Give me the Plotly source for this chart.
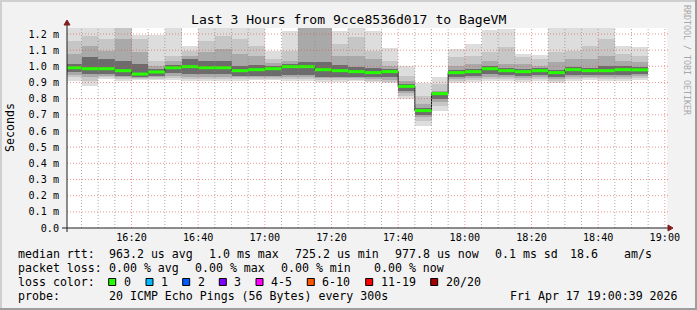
import plotly.graph_objects as go
from datetime import datetime, timedelta

# ---------------- data ----------------
DAY = "2026-04-17"
bin_end = ["16:05", "16:10", "16:15", "16:20", "16:25", "16:30", "16:35", "16:40",
           "16:45", "16:50", "16:55", "17:00", "17:05", "17:10", "17:15", "17:20",
           "17:25", "17:30", "17:35", "17:40", "17:45", "17:50", "17:55", "18:00",
           "18:05", "18:10", "18:15", "18:20", "18:25", "18:30", "18:35", "18:40",
           "18:45", "18:50", "18:55"]

# median rtt in ms
median_ms = [0.991, 0.985, 0.985, 0.973, 0.952, 0.965, 0.991, 0.998,
             0.991, 0.991, 0.973, 0.979, 0.985, 0.998, 0.998, 0.979,
             0.973, 0.967, 0.961, 0.967, 0.876, 0.726, 0.831, 0.961,
             0.967, 0.985, 0.973, 0.967, 0.973, 0.961, 0.979, 0.973,
             0.973, 0.979, 0.978]

# smoke band edges (ms), outer -> inner
smoke_max = [1.26, 1.26, 1.26, 1.26, 1.194, 1.194, 1.26, 1.128,
             1.26, 1.26, 1.26, 1.26, 1.097, 1.216, 1.26, 1.26,
             1.220, 1.26, 1.220, 1.113, 1.000, 0.895, 0.936, 1.107,
             1.138, 1.225, 1.231, 1.076, 1.072, 1.26, 1.26, 1.26,
             1.26, 1.124, 1.117]
smoke_hi2 = [1.159, 1.189, 1.169, 1.26, 1.169, 1.035, 1.066, 1.097,
             1.159, 1.189, 1.169, 1.128, 1.045, 1.097, 1.26, 1.26,
             1.138, 1.179, 1.097, 1.035, 0.942, 0.818, 0.891, 1.055,
             1.066, 1.086, 1.117, 1.055, 1.045, 1.086, 1.097, 1.128,
             1.169, 1.076, 1.066]
smoke_hi3 = [1.076, 1.128, 1.097, 1.169, 1.086, 1.004, 1.035, 1.066,
             1.086, 1.107, 1.076, 1.066, 1.018, 1.035, 1.26, 1.26,
             1.066, 1.066, 1.045, 1.004, 0.911, 0.767, 0.849, 1.004,
             1.014, 1.035, 1.014, 1.014, 1.004, 1.025, 1.045, 1.045,
             1.066, 1.035, 1.025]
smoke_hi4 = [1.014, 1.055, 1.045, 1.035, 1.014, 0.983, 1.010, 1.045,
             1.031, 1.031, 1.004, 1.010, 1.002, 1.014, 1.025, 1.025,
             1.010, 0.998, 0.990, 0.983, 0.891, 0.742, 0.839, 0.977,
             0.983, 1.004, 0.990, 0.983, 0.987, 0.979, 0.998, 0.990,
             1.004, 1.000, 0.998]
smoke_lo4 = [0.963, 0.952, 0.952, 0.942, 0.936, 0.942, 0.957, 0.952,
             0.952, 0.952, 0.942, 0.942, 0.942, 0.948, 0.948, 0.936,
             0.936, 0.936, 0.932, 0.932, 0.849, 0.701, 0.798, 0.936,
             0.942, 0.952, 0.948, 0.942, 0.948, 0.932, 0.948, 0.948,
             0.948, 0.948, 0.952]
smoke_lo3 = [0.948, 0.936, 0.942, 0.932, 0.928, 0.932, 0.942, 0.936,
             0.936, 0.936, 0.932, 0.932, 0.932, 0.936, 0.936, 0.926,
             0.926, 0.926, 0.922, 0.915, 0.833, 0.684, 0.777, 0.924,
             0.928, 0.936, 0.936, 0.928, 0.932, 0.919, 0.932, 0.936,
             0.936, 0.936, 0.940]
smoke_lo2 = [0.932, 0.911, 0.932, 0.922, 0.922, 0.924, 0.928, 0.924,
             0.924, 0.924, 0.922, 0.924, 0.924, 0.924, 0.924, 0.915,
             0.915, 0.915, 0.911, 0.905, 0.818, 0.664, 0.757, 0.911,
             0.915, 0.924, 0.924, 0.915, 0.919, 0.907, 0.919, 0.926,
             0.924, 0.924, 0.928]
smoke_min = [0.911, 0.880, 0.922, 0.907, 0.915, 0.915, 0.915, 0.911,
             0.911, 0.911, 0.911, 0.915, 0.915, 0.911, 0.911, 0.901,
             0.901, 0.907, 0.901, 0.895, 0.798, 0.633, 0.722, 0.895,
             0.901, 0.911, 0.911, 0.901, 0.907, 0.897, 0.907, 0.915,
             0.911, 0.911, 0.915]

y_tick_vals = [0.0, 0.1, 0.2, 0.3, 0.4, 0.5, 0.6, 0.7, 0.8, 0.9, 1.0, 1.1, 1.2]
y_tick_text = ["0.0", "0.1 m", "0.2 m", "0.3 m", "0.4 m", "0.5 m", "0.6 m",
               "0.7 m", "0.8 m", "0.9 m", "1.0 m", "1.1 m", "1.2 m"]

title_text = "Last 3 Hours from 9cce8536d017 to BageVM"
legend_rows = [
    [(16, "median rtt:"), (107.3, "963.2 us avg"), (207.3, "1.0 ms max"),
     (293.3, "725.2 us min"), (393.3, "977.8 us now"), (493.3, "0.1 ms sd"),
     (568.3, "18.6"), (621.7, "am/s")],
    [(16, "packet loss:"), (107.3, "0.00 % avg"), (193.3, "0.00 % max"),
     (279.3, "0.00 % min"), (371.7, "0.00 % now")],
    [(16, "loss color:")],
    [(16, "probe:"), (107.3, "20 ICMP Echo Pings (56 Bytes) every 300s")],
]
legend_row_y = [254, 268, 282, 296]
loss_labels = ["0", "1", "2", "3", "4-5", "6-10", "11-19", "20/20"]
loss_colors = ["#26ff00", "#00b8ff", "#0059ff", "#7e00ff", "#ff00ff",
               "#ff5500", "#ff0000", "#a10000"]
loss_box_x = [108.7, 146.0, 182.7, 219.3, 256.0, 307.3, 365.7, 430.7]
timestamp_text = "Fri Apr 17 19:00:39 2026"

# ---------------- geometry / style ----------------
W, H = 697, 310
PL, PR, PT, PB = 67, 667, 28, 228
FONT = "DejaVu Sans Mono"


def px(x):
    return (x - PL) / (PR - PL)


def py(y):
    return (PB - y) / (PB - PT)


ends = [datetime.strptime(DAY + " " + e, "%Y-%m-%d %H:%M") for e in bin_end]
step = timedelta(minutes=5)
starts = [e - step for e in ends]
centers = [e - step / 2 for e in ends]
x_start = datetime(2026, 4, 17, 16, 0, 39)
x_stop = datetime(2026, 4, 17, 19, 0, 39)

fig = go.Figure()

bands = [
    (smoke_min, smoke_max, "#dddddd"),
    (smoke_lo2, smoke_hi2, "#c6c6c6"),
    (smoke_lo3, smoke_hi3, "#a9a9a9"),
    (smoke_lo4, smoke_hi4, "#6c6c6c"),
]
for lo, hi, col in bands:
    fig.add_trace(go.Bar(
        x=centers, base=lo, y=[h - l for h, l in zip(hi, lo)],
        width=[300000] * len(centers),
        marker=dict(color=col, line=dict(width=0)),
        hoverinfo="skip", showlegend=False))

# dark step line of the median
fig.add_trace(go.Scatter(
    x=starts + [ends[-1]], y=median_ms + [median_ms[-1]],
    mode="lines", line=dict(color="#202020", width=1, shape="hv"),
    hoverinfo="skip", showlegend=False))

# green (0 % loss) median segments
gx, gy = [], []
for s, e, m in zip(starts, ends, median_ms):
    gx += [s, e, None]
    gy += [m, m, None]
fig.add_trace(go.Scatter(
    x=gx, y=gy, mode="lines", line=dict(color=loss_colors[0], width=3),
    hoverinfo="skip", showlegend=False, connectgaps=False))

shapes = []
# grid drawn above the data (as rrdtool does)
t = datetime(2026, 4, 17, 16, 5)
while t <= datetime(2026, 4, 17, 19, 0):
    major = t.minute % 20 == 0
    shapes.append(dict(type="line", xref="x", yref="paper", x0=t, x1=t, y0=0, y1=1,
                       line=dict(color="rgba(222,79,79,0.6)" if major else "rgba(143,143,143,0.75)",
                                 width=1, dash="1px,2px"), layer="above"))
    t += step
for v in y_tick_vals[1:]:
    shapes.append(dict(type="line", xref="paper", yref="y", x0=0, x1=px(669), y0=v, y1=v,
                       line=dict(color="rgba(222,79,79,0.6)", width=1, dash="1px,2px"),
                       layer="above"))

# axes with arrows
axis_col = "#1f1f1f"
arrow_col = "#801f1f"
shapes.append(dict(type="line", xref="paper", yref="paper", x0=px(62), x1=px(669),
                   y0=py(228), y1=py(228), line=dict(color=axis_col, width=1), layer="above"))
shapes.append(dict(type="line", xref="paper", yref="paper", x0=px(67), x1=px(67),
                   y0=py(232), y1=py(24), line=dict(color=axis_col, width=1), layer="above"))
shapes.append(dict(type="path", xref="paper", yref="paper",
                   path=f"M {px(668)} {py(225)} L {px(673)} {py(228)} L {px(668)} {py(231)} Z",
                   fillcolor=arrow_col, line=dict(color=arrow_col, width=1), layer="above"))
shapes.append(dict(type="path", xref="paper", yref="paper",
                   path=f"M {px(64)} {py(25)} L {px(67)} {py(20)} L {px(70)} {py(25)} Z",
                   fillcolor=arrow_col, line=dict(color=arrow_col, width=1), layer="above"))

# 3D frame of the image
shapes.append(dict(type="line", xref="paper", yref="paper", x0=px(0), x1=px(697), y0=py(1), y1=py(1),
                   line=dict(color="#cfcfcf", width=2)))
shapes.append(dict(type="line", xref="paper", yref="paper", x0=px(1), x1=px(1), y0=py(0), y1=py(310),
                   line=dict(color="#cfcfcf", width=2)))
shapes.append(dict(type="line", xref="paper", yref="paper", x0=px(0), x1=px(697), y0=py(309), y1=py(309),
                   line=dict(color="#9e9e9e", width=2)))
shapes.append(dict(type="line", xref="paper", yref="paper", x0=px(696), x1=px(696), y0=py(0), y1=py(310),
                   line=dict(color="#9e9e9e", width=2)))

# loss colour boxes
for bx, col in zip(loss_box_x, loss_colors):
    shapes.append(dict(type="rect", xref="paper", yref="paper",
                       x0=px(bx), x1=px(bx + 7), y0=py(278.5), y1=py(285.5),
                       fillcolor=col, line=dict(color="#000000", width=1)))

annotations = []
for row, yy in zip(legend_rows, legend_row_y):
    for xx, txt in row:
        annotations.append(dict(x=px(xx), y=py(yy), xref="paper", yref="paper",
                                text=txt, showarrow=False, xanchor="left", yanchor="middle",
                                font=dict(family=FONT, size=11.6, color="#000000")))
for bx, lab in zip(loss_box_x, loss_labels):
    annotations.append(dict(x=px(bx + 13), y=py(legend_row_y[2]), xref="paper", yref="paper",
                            text=lab, showarrow=False, xanchor="left", yanchor="middle",
                            font=dict(family=FONT, size=11.6, color="#000000")))
annotations.append(dict(x=px(680), y=py(legend_row_y[3]), xref="paper", yref="paper",
                        text=timestamp_text, showarrow=False, xanchor="right", yanchor="middle",
                        font=dict(family=FONT, size=11.6, color="#000000")))
annotations.append(dict(x=px(10), y=py(128), xref="paper", yref="paper", text="Seconds",
                        showarrow=False, textangle=-90, xanchor="center", yanchor="middle",
                        font=dict(family=FONT, size=11.6, color="#000000")))
annotations.append(dict(x=px(687), y=py(60), xref="paper", yref="paper",
                        text="RRDTOOL / TOBI OETIKER", showarrow=False, textangle=90,
                        xanchor="center", yanchor="middle",
                        font=dict(family=FONT, size=8.3, color="#a8a8a8")))
annotations.append(dict(x=px(348.5), y=py(19), xref="paper", yref="paper", text=title_text,
                        showarrow=False, xanchor="center", yanchor="middle",
                        font=dict(family=FONT, size=13.1, color="#000000")))

fig.update_layout(
    width=W, height=H, autosize=False,
    margin=dict(l=PL, r=W - PR, t=PT, b=H - PB, pad=0),
    paper_bgcolor="#f2f2f2", plot_bgcolor="#ffffff",
    barmode="overlay", bargap=0, showlegend=False,
    shapes=shapes, annotations=annotations,
    xaxis=dict(type="date", range=[x_start, x_stop], showgrid=False, zeroline=False,
               showline=False, ticks="", tick0="2026-04-17 16:00", dtick=20 * 60 * 1000,
               tickformat="%H:%M", ticklabelstandoff=2,
               tickfont=dict(family=FONT, size=10.15, color="#000000")),
    yaxis=dict(range=[0, 1.2369], showgrid=False, zeroline=False, showline=False,
               ticks="", tickvals=y_tick_vals, ticktext=y_tick_text, ticklabelstandoff=7,
               tickfont=dict(family=FONT, size=10.15, color="#000000")),
)

fig.write_html("out.html")
